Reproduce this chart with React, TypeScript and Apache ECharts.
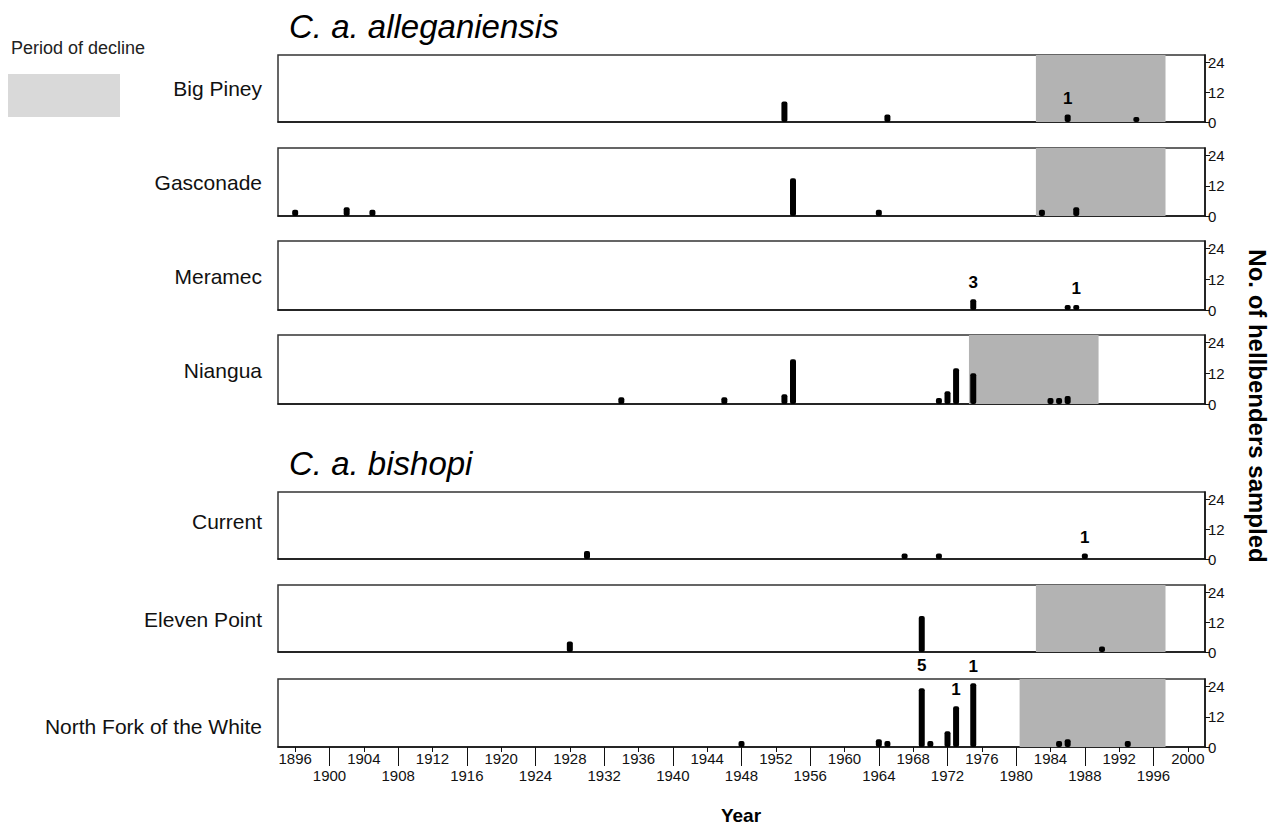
import React, { useEffect, useRef } from "react";
import * as echarts from "echarts";

// ---------- data ----------
const rivers = [
  "Big Piney",
  "Gasconade",
  "Meramec",
  "Niangua",
  "Current",
  "Eleven Point",
  "North Fork of the White",
];

const bigPineyYears = [1953, 1965, 1986, 1994];
const bigPineyCounts = [8.3, 3, 3, 2];
const bigPineyLabels = ["", "", "1", ""];

const gasconadeYears = [1896, 1902, 1905, 1954, 1964, 1983, 1987];
const gasconadeCounts = [2.5, 3.5, 2.5, 15, 2.5, 2.5, 3.5];
const gasconadeLabels = ["", "", "", "", "", "", ""];

const meramecYears = [1975, 1986, 1987];
const meramecCounts = [4.2, 2, 2];
const meramecLabels = ["3", "", "1"];

const nianguaYears = [1934, 1946, 1953, 1954, 1971, 1972, 1973, 1975, 1984, 1985, 1986];
const nianguaCounts = [2.6, 2.6, 3.8, 17.5, 2.3, 5, 14, 12, 2.3, 2.3, 3.1];
const nianguaLabels = ["", "", "", "", "", "", "", "", "", "", ""];

const currentYears = [1930, 1967, 1971, 1988];
const currentCounts = [3.2, 2.2, 2.2, 2.2];
const currentLabels = ["", "", "", "1"];

const elevenPointYears = [1928, 1969, 1990];
const elevenPointCounts = [4.2, 14.5, 2.2];
const elevenPointLabels = ["", "", ""];

const northForkYears = [1948, 1964, 1965, 1969, 1970, 1972, 1973, 1975, 1985, 1986, 1993];
const northForkCounts = [2.4, 3.1, 2.4, 23.3, 2.4, 6.3, 16.2, 25.3, 2.4, 3.1, 2.4];
const northForkLabels = ["", "", "", "5", "", "", "1", "1", "", "", ""];

const riverYears = [bigPineyYears, gasconadeYears, meramecYears, nianguaYears, currentYears, elevenPointYears, northForkYears];
const riverCounts = [bigPineyCounts, gasconadeCounts, meramecCounts, nianguaCounts, currentCounts, elevenPointCounts, northForkCounts];
const riverLabels = [bigPineyLabels, gasconadeLabels, meramecLabels, nianguaLabels, currentLabels, elevenPointLabels, northForkLabels];

// period of decline per river [start, end] (null = none)
const declinePeriods: (number[] | null)[] = [
  [1982.3, 1997.4],
  [1982.3, 1997.4],
  null,
  [1974.5, 1989.6],
  null,
  [1982.3, 1997.4],
  [1980.4, 1997.4],
];

const upperTickYears = [1896, 1904, 1912, 1920, 1928, 1936, 1944, 1952, 1960, 1968, 1976, 1984, 1992, 2000];
const lowerTickYears = [1900, 1908, 1916, 1924, 1932, 1940, 1948, 1956, 1964, 1972, 1980, 1988, 1996];
const yTicks = [0, 12, 24];

const subspecies = ["C. a. alleganiensis", "C. a. bishopi"];
const legendText = "Period of decline";
const xTitle = "Year";
const yTitle = "No. of hellbenders sampled";

// ---------- layout ----------
const X_MIN = 1894;
const X_MAX = 2002;
const Y_MAX = 27;
const gridTops = [55, 148, 241, 335, 492, 585, 679];
const gridHeights = [67, 68, 69, 69, 67, 67, 68];
const labelYs = [88, 182, 276, 370, 521, 619, 726];
const FONT = "'Liberation Sans', Arial, Helvetica, sans-serif";
const plain = (v: number) => String(v);

export default function App() {
  const ref = useRef<HTMLDivElement>(null);

  useEffect(() => {
    if (!ref.current) return;
    const chart = echarts.init(ref.current, undefined, { renderer: "svg" });

    const grids = gridTops.map((t, i) => ({
      left: 278,
      right: 67,
      top: t,
      height: gridHeights[i],
      show: true,
      borderColor: "#333",
      borderWidth: 1.5,
      backgroundColor: "transparent",
    }));

    const last = rivers.length - 1;
    const xAxes: any[] = rivers.map((_, i) => ({
      type: "value",
      gridIndex: i,
      min: X_MIN,
      max: X_MAX,
      position: "bottom",
      splitLine: { show: false },
      axisLine: { show: true, lineStyle: { color: "#111", width: 1.5 } },
      axisTick:
        i === last
          ? { show: true, customValues: upperTickYears, length: 5, lineStyle: { color: "#111" } }
          : { show: false },
      axisLabel:
        i === last
          ? {
              show: true,
              customValues: upperTickYears,
              formatter: plain,
              margin: 4,
              color: "#111",
              fontSize: 15,
              fontFamily: FONT,
            }
          : { show: false },
    }));
    xAxes.push({
      type: "value",
      gridIndex: last,
      min: X_MIN,
      max: X_MAX,
      position: "bottom",
      offset: 0,
      splitLine: { show: false },
      axisLine: { show: false },
      axisTick: { show: true, customValues: lowerTickYears, length: 19, lineStyle: { color: "#111" } },
      axisLabel: {
        show: true,
        customValues: lowerTickYears,
        formatter: plain,
        margin: 21,
        color: "#111",
        fontSize: 15,
        fontFamily: FONT,
      },
    });

    const yAxes = rivers.map((_, i) => ({
      type: "value",
      gridIndex: i,
      min: 0,
      max: Y_MAX,
      position: "right",
      splitLine: { show: false },
      axisLine: { show: true, lineStyle: { color: "#111", width: 1.5 } },
      axisTick: { show: true, customValues: yTicks, length: 5, lineStyle: { color: "#111" } },
      axisLabel: {
        show: true,
        customValues: yTicks,
        formatter: plain,
        margin: 3,
        color: "#111",
        fontSize: 15,
        fontFamily: FONT,
      },
    }));

    const series = rivers.map((name, i) => ({
      type: "bar",
      name,
      xAxisIndex: i,
      yAxisIndex: i,
      barWidth: 6,
      z: 3,
      itemStyle: { color: "#000", borderRadius: 2 },
      data: riverYears[i].map((yr, j) => {
        const lab = riverLabels[i][j];
        const item: any = { value: [yr, riverCounts[i][j]] };
        if (lab) {
          item.label = {
            show: true,
            position: "top",
            formatter: lab,
            distance: riverCounts[i][j] > 20 && riverCounts[i][j] < 24 ? 14 : 8,
            color: "#000",
            fontWeight: "bold",
            fontSize: 17,
            fontFamily: FONT,
          };
        }
        return item;
      }),
      markArea: declinePeriods[i]
        ? {
            silent: true,
            z: 1,
            itemStyle: { color: "#b3b3b3" },
            label: { show: false },
            data: [[{ xAxis: declinePeriods[i]![0] }, { xAxis: declinePeriods[i]![1] }]],
          }
        : undefined,
    }));

    const graphics: any[] = [
      {
        type: "text",
        x: 11,
        y: 48,
        style: {
          text: legendText,
          font: `18px ${FONT}`,
          fill: "#222",
          textVerticalAlign: "middle",
        },
      },
      {
        type: "rect",
        shape: { x: 8, y: 74, width: 112, height: 43 },
        style: { fill: "#d9d9d9" },
      },
      {
        type: "text",
        x: 289,
        y: 26,
        style: {
          text: subspecies[0],
          font: `italic 33px ${FONT}`,
          fill: "#000",
          textVerticalAlign: "middle",
        },
      },
      {
        type: "text",
        x: 289,
        y: 463,
        style: {
          text: subspecies[1],
          font: `italic 33px ${FONT}`,
          fill: "#000",
          textVerticalAlign: "middle",
        },
      },
      ...rivers.map((r, i) => ({
        type: "text",
        x: 262,
        y: labelYs[i],
        style: {
          text: r,
          font: `21px ${FONT}`,
          fill: "#111",
          textAlign: "right",
          textVerticalAlign: "middle",
        },
      })),
      {
        type: "text",
        x: 741,
        y: 815,
        style: {
          text: xTitle,
          font: `bold 19px ${FONT}`,
          fill: "#000",
          textAlign: "center",
          textVerticalAlign: "middle",
        },
      },
      {
        type: "text",
        x: 1257,
        y: 406,
        rotation: -Math.PI / 2,
        style: {
          text: yTitle,
          font: `bold 24px ${FONT}`,
          fill: "#000",
          textAlign: "center",
          textVerticalAlign: "middle",
        },
      },
    ];

    chart.setOption({
      animation: false,
      backgroundColor: "#fff",
      grid: grids,
      xAxis: xAxes,
      yAxis: yAxes,
      series,
      graphic: graphics,
    });

    return () => chart.dispose();
  }, []);

  return (
    <div
      ref={ref}
      style={{ position: "fixed", left: 0, top: 0, width: 1272, height: 832 }}
    />
  );
}
